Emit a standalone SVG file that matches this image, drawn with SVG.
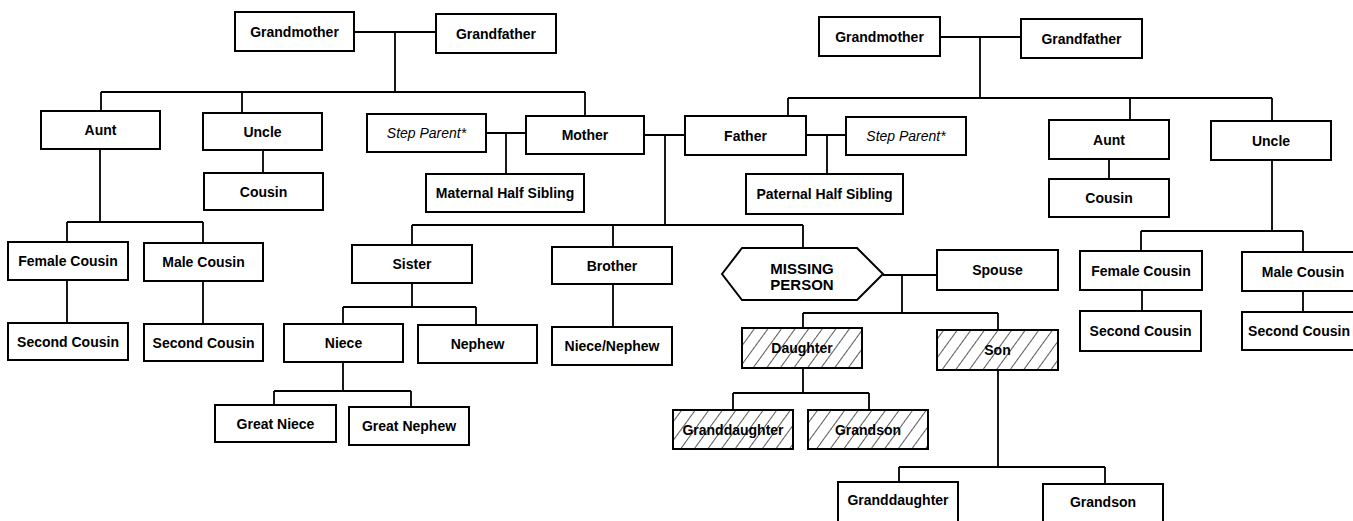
<svg xmlns="http://www.w3.org/2000/svg" width="1353" height="521" viewBox="0 0 1353 521">
<defs>
<pattern id="hatch" patternUnits="userSpaceOnUse" width="11" height="11" patternTransform="rotate(36)">
<line x1="0" y1="0" x2="0" y2="11" stroke="#000" stroke-width="1.3"/>
</pattern>
<style>
rect.b{fill:#fff;stroke:#000;stroke-width:2}
rect.h{fill:url(#hatch);stroke:#000;stroke-width:2}
polygon.hx{fill:#fff;stroke:#000;stroke-width:2}
text{font-family:"Liberation Sans",Arial,sans-serif;font-size:14px;font-weight:bold;text-anchor:middle;fill:#000}
text.i{font-style:italic;font-weight:normal}
text.m{font-size:15px}
#connectors path{fill:none;stroke:#000;stroke-width:1.8}
</style>
</defs>
<rect width="1353" height="521" fill="#fff"/>
<g id="connectors">
<path d="M354 32H436M395 32V92M101 92H585M101 92V111M242 92V113M585 92V116"/>
<path d="M263 150V173"/>
<path d="M486 133H526M506 133V174"/>
<path d="M644 135H685M665 135V225"/>
<path d="M806 135H846M827 135V174"/>
<path d="M940 37H1021M980 37V98M788 98H1272M788 98V116M1130 98V120M1272 98V121"/>
<path d="M1109 159V179"/>
<path d="M1272 160V231M1141 231H1303M1141 231V251M1303 231V252"/>
<path d="M1142 290V311M1303 291V312"/>
<path d="M100 149V222M67 222H203M67 222V242M203 222V243"/>
<path d="M67 280V323M203 281V324"/>
<path d="M412 225H803M412 225V245M613 225V247M803 225V248"/>
<path d="M883 275H937M902 275V313M803 313H998M803 313V328M998 313V330"/>
<path d="M412 283V307M343 307H476M343 307V324M476 307V325"/>
<path d="M613 284V327"/>
<path d="M343 362V391M274 391H411M274 391V405M411 391V407"/>
<path d="M803 368V393M733 393H869M733 393V410M869 393V410"/>
<path d="M998 370V467M899 467H1105M899 467V482M1105 467V484"/>
</g>
<g id="gm-left"><rect class="b" x="235" y="12" width="119" height="39"/><text x="294.5" y="36.5">Grandmother</text></g>
<g id="gf-left"><rect class="b" x="436" y="14" width="120" height="39"/><text x="496" y="38.5">Grandfather</text></g>
<g id="aunt-left"><rect class="b" x="41" y="111" width="119" height="38"/><text x="100.5" y="135">Aunt</text></g>
<g id="uncle-left"><rect class="b" x="203" y="113" width="119" height="37"/><text x="262.5" y="136.5">Uncle</text></g>
<g id="cousin-left"><rect class="b" x="204" y="173" width="119" height="37"/><text x="263.5" y="196.5">Cousin</text></g>
<g id="step-parent-left"><rect class="b" x="367" y="114" width="119" height="38"/><text class="i" x="426.5" y="138">Step Parent*</text></g>
<g id="mother"><rect class="b" x="526" y="116" width="118" height="38"/><text x="585" y="140">Mother</text></g>
<g id="maternal-half-sibling"><rect class="b" x="426" y="174" width="158" height="38"/><text x="505" y="198">Maternal Half Sibling</text></g>
<g id="father"><rect class="b" x="685" y="116" width="121" height="39"/><text x="745.5" y="140.5">Father</text></g>
<g id="step-parent-right"><rect class="b" x="846" y="117" width="120" height="38"/><text class="i" x="906" y="141">Step Parent*</text></g>
<g id="paternal-half-sibling"><rect class="b" x="746" y="174" width="157" height="40"/><text x="824.5" y="199">Paternal Half Sibling</text></g>
<g id="gm-right"><rect class="b" x="819" y="17" width="121" height="39"/><text x="879.5" y="41.5">Grandmother</text></g>
<g id="gf-right"><rect class="b" x="1021" y="19" width="121" height="39"/><text x="1081.5" y="43.5">Grandfather</text></g>
<g id="aunt-right"><rect class="b" x="1049" y="120" width="120" height="39"/><text x="1109" y="144.5">Aunt</text></g>
<g id="uncle-right"><rect class="b" x="1211" y="121" width="120" height="39"/><text x="1271" y="145.5">Uncle</text></g>
<g id="cousin-right"><rect class="b" x="1049" y="179" width="120" height="38"/><text x="1109" y="203">Cousin</text></g>
<g id="female-cousin-right"><rect class="b" x="1080" y="251" width="122" height="39"/><text x="1141" y="275.5">Female Cousin</text></g>
<g id="male-cousin-right"><rect class="b" x="1242" y="252" width="125" height="39"/><text x="1303" y="276.5">Male Cousin</text></g>
<g id="second-cousin-right1"><rect class="b" x="1080" y="311" width="121" height="40"/><text x="1140.5" y="336">Second Cousin</text></g>
<g id="second-cousin-right2"><rect class="b" x="1242" y="312" width="125" height="38"/><text x="1299" y="336">Second Cousin</text></g>
<g id="female-cousin-left"><rect class="b" x="8" y="242" width="120" height="38"/><text x="68" y="266">Female Cousin</text></g>
<g id="male-cousin-left"><rect class="b" x="144" y="243" width="119" height="38"/><text x="203.5" y="267">Male Cousin</text></g>
<g id="second-cousin-left1"><rect class="b" x="8" y="323" width="120" height="37"/><text x="68" y="346.5">Second Cousin</text></g>
<g id="second-cousin-left2"><rect class="b" x="144" y="324" width="119" height="37"/><text x="203.5" y="347.5">Second Cousin</text></g>
<g id="sister"><rect class="b" x="352" y="245" width="120" height="38"/><text x="412" y="269">Sister</text></g>
<g id="brother"><rect class="b" x="552" y="247" width="120" height="37"/><text x="612" y="270.5">Brother</text></g>
<g id="missing-person"><polygon class="hx" points="722,274 742,248 857,248 883,274 857,300 742,300"/><text class="m" x="802" y="273.5">MISSING</text><text class="m" x="802" y="290">PERSON</text></g>
<g id="spouse"><rect class="b" x="937" y="250" width="121" height="40"/><text x="997.5" y="275">Spouse</text></g>
<g id="niece"><rect class="b" x="284" y="324" width="119" height="38"/><text x="343.5" y="348">Niece</text></g>
<g id="nephew"><rect class="b" x="418" y="325" width="119" height="38"/><text x="477.5" y="349">Nephew</text></g>
<g id="niece-nephew"><rect class="b" x="552" y="327" width="120" height="38"/><text x="612" y="351">Niece/Nephew</text></g>
<g id="daughter"><rect class="h" x="742" y="328" width="120" height="40"/><text x="802" y="353">Daughter</text></g>
<g id="son"><rect class="h" x="937" y="330" width="121" height="40"/><text x="997.5" y="355">Son</text></g>
<g id="great-niece"><rect class="b" x="215" y="405" width="121" height="37"/><text x="275.5" y="428.5">Great Niece</text></g>
<g id="great-nephew"><rect class="b" x="349" y="407" width="120" height="38"/><text x="409" y="431">Great Nephew</text></g>
<g id="granddaughter-hatched"><rect class="h" x="673" y="410" width="120" height="39"/><text x="733" y="434.5">Granddaughter</text></g>
<g id="grandson-hatched"><rect class="h" x="808" y="410" width="120" height="39"/><text x="868" y="434.5">Grandson</text></g>
<g id="granddaughter"><rect class="b" x="838" y="482" width="120" height="45"/><text x="898" y="505">Granddaughter</text></g>
<g id="grandson"><rect class="b" x="1043" y="484" width="120" height="45"/><text x="1103" y="507">Grandson</text></g>
</svg>
